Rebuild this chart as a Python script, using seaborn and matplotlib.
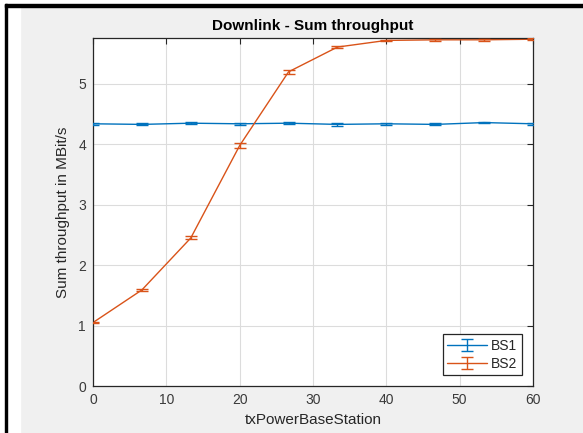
import numpy as np
import pandas as pd
import matplotlib
matplotlib.use("Agg")
import matplotlib.pyplot as plt
from matplotlib.patches import Rectangle
from matplotlib.legend_handler import HandlerTuple, HandlerErrorbar
from matplotlib.container import ErrorbarContainer
import seaborn as sns

# Transmit power settings of the base station
tx_power = [0, 6.667, 13.333, 20, 26.667, 33.333, 40, 46.667, 53.333, 60]

# Mean sum throughput (MBit/s) and error half-widths per base station
bs1_mean = [4.34, 4.33, 4.35, 4.34, 4.35, 4.33, 4.34, 4.33, 4.36, 4.34]
bs1_err = [0.02, 0.015, 0.02, 0.02, 0.02, 0.02, 0.02, 0.015, 0.015, 0.02]
bs2_mean = [1.05, 1.59, 2.45, 3.98, 5.20, 5.61, 5.72, 5.73, 5.73, 5.74]
bs2_err = [0.015, 0.015, 0.025, 0.04, 0.03, 0.015, 0.015, 0.015, 0.015, 0.015]

series_names = ["BS1", "BS2"]
colors = ["#0072BD", "#D95319"]

sns.set_theme(style="white")
plt.rcParams["font.family"] = ["Liberation Sans", "DejaVu Sans"]

fig = plt.figure(figsize=(5.83, 4.33), dpi=100, facecolor="#F0F0F0")
W, H = 583, 433

# window frame around the figure
fig.patches.append(Rectangle((0, 0), 5 / W, 1, transform=fig.transFigure, color="white", zorder=-2))
fig.patches.append(Rectangle((0, 1 - 4 / H), 1, 4 / H, transform=fig.transFigure, color="white", zorder=-2))
fig.patches.append(Rectangle((7 / W, 0), 13 / W, 1 - 7 / H, transform=fig.transFigure, color="white", zorder=-2))
fig.patches.append(Rectangle((5 / W, 0), 2 / W, 1 - 4 / H, transform=fig.transFigure, color="black", zorder=-1))
fig.patches.append(Rectangle((5 / W, 1 - 7 / H), 1, 3 / H, transform=fig.transFigure, color="black", zorder=-1))

ax = fig.add_axes([93 / W, (H - 386) / H, 440 / W, 348 / H])
ax.set_facecolor("white")

df = pd.DataFrame({
    "tx": tx_power * 2,
    "thr": bs1_mean + bs2_mean,
    "bs": [series_names[0]] * len(tx_power) + [series_names[1]] * len(tx_power),
})
sns.lineplot(data=df, x="tx", y="thr", hue="bs", palette=colors, ax=ax,
             linewidth=1.0, legend=False, estimator=None, sort=False)

handles = []
for line, mean, err, c in zip(ax.lines[:2], [bs1_mean, bs2_mean], [bs1_err, bs2_err], colors):
    eb = ax.errorbar(tx_power, mean, yerr=err, fmt="none", ecolor=c,
                     elinewidth=1.0, capsize=4, capthick=1.0, zorder=3)
    handles.append((line, eb))

ax.set_xlim(0, 60)
ax.set_ylim(0, 5.76)
ax.set_xticks(range(0, 61, 10))
ax.set_yticks(range(0, 6))
ax.grid(True, color="#DCDCDC", linewidth=0.8)
ax.set_axisbelow(True)
for s in ax.spines.values():
    s.set_color("#262626")
    s.set_linewidth(0.9)
ax.tick_params(direction="in", length=4, width=0.8, color="#262626",
               top=True, right=True, labelsize=10, labelcolor="#3a3a3a", pad=5)

ax.set_title("Downlink - Sum throughput", fontsize=11, fontweight="bold", color="black", pad=6)
ax.set_xlabel("txPowerBaseStation", fontsize=11, color="#262626", labelpad=4)
ax.set_ylabel("Sum throughput in MBit/s", fontsize=11, color="#262626", labelpad=6)

leg = ax.legend(handles, series_names, loc="lower right", fontsize=10,
                handler_map={tuple: HandlerTuple(ndivide=1, pad=0),
                             ErrorbarContainer: HandlerErrorbar(xerr_size=0.42)},
                frameon=True, fancybox=False, framealpha=1, edgecolor="#262626",
                handlelength=2.9, borderaxespad=0.8, labelspacing=0.3, borderpad=0.3,
                handletextpad=0.3)
leg.get_frame().set_linewidth(0.9)

fig.savefig("out.png", dpi=100, facecolor=fig.get_facecolor())
